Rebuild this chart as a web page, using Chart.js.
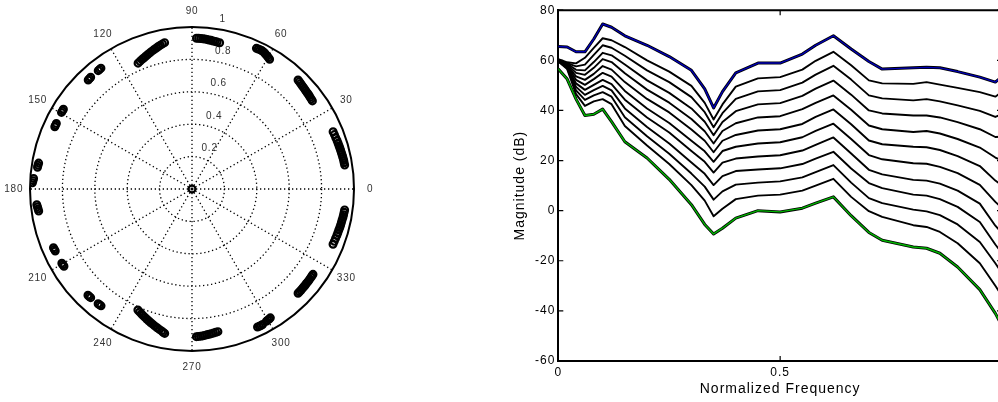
<!DOCTYPE html>
<html>
<head>
<meta charset="utf-8">
<script src="https://cdn.jsdelivr.net/npm/chart.js@4.4.1/dist/chart.umd.min.js"></script>
<style>
  html, body { margin: 0; padding: 0; background: #fff; overflow: hidden; }
  body { width: 998px; height: 402px; position: relative; }
  #polarBox { position: absolute; left: 0; top: 0; width: 400px; height: 402px; }
  #magBox { position: absolute; left: 500px; top: 0; width: 510px; height: 402px; }
</style>
</head>
<body>
<div id="polarBox"><canvas id="polar"></canvas></div>
<div id="magBox"><canvas id="mag"></canvas></div>
<script>
// ---- left: polar plot of the roots (angle in degrees, radius) ----
const rootAngle = [
  88.3, 87.5, 86.7, 85.9, 85.1, 84.3, 83.5, 82.7, 81.9, 81.1, 80.3, 79.3,
  65.4, 64.7, 64, 63.3, 62.6, 61.9, 61.2, 60.5, 59.8, 59.1,
  45.8, 45, 44.2, 43.4, 42.6, 41.8, 41, 40.2, 39.4, 38.6, 37.8, 37, 36.2,
  22.1, 20.9, 19.7, 18.5, 17.4, 16.4, 15.5, 14.6, 13.8, 13, 12.2, 11.4, 10.6, 9.8, 8.9,
  113.2, 112.2, 111.2, 110.2, 109.2, 108.2, 107.2, 106.2, 105.2, 104.2, 103.3, 102.4, 101.5, 100.6,
  133.6, 132.9, 132.2, 128.4, 127.7, 127,
  149.6, 148.9, 148.2, 155.6, 154.9, 154.2,
  172, 171.2, 170.4, 177.8, 177, 176.2,
  185.8, 186.6, 187.4, 188.2,
  203, 203.7, 204.4, 209.7, 210.4, 211.1,
  225.6, 226.3, 227, 230.7, 231.4, 232.1,
  245.9, 246.9, 247.9, 248.9, 249.9, 250.9, 251.9, 252.9, 253.9, 254.9, 255.9, 256.9, 257.9, 258.6, 259.3,
  271.7, 272.5, 273.3, 274.1, 274.9, 275.8, 276.7, 277.6, 278.5, 279.4, 280.3,
  295.4, 296.1, 296.8, 297.5, 299.3, 300, 300.7, 301.3,
  315.5, 316.3, 317.1, 317.9, 318.7, 319.5, 320.3, 321.1, 321.9, 322.7, 323.5, 324.2, 324.8,
  338.6, 339.8, 341, 342.2, 343.3, 344.4, 345.4, 346.4, 347.4, 348.4, 349.4, 350.4, 351.3, 352.2,
  0
];
const rootRadius = [
  0.931, 0.931, 0.93, 0.93, 0.929, 0.928, 0.926, 0.925, 0.923, 0.922, 0.92, 0.919,
  0.955, 0.956, 0.957, 0.957, 0.955, 0.952, 0.947, 0.943, 0.938, 0.933,
  0.939, 0.937, 0.935, 0.933, 0.931, 0.93, 0.928, 0.927, 0.926, 0.925, 0.923, 0.922, 0.921,
  0.94, 0.941, 0.942, 0.944, 0.945, 0.946, 0.947, 0.948, 0.949, 0.95, 0.951, 0.952, 0.953, 0.953, 0.954,
  0.845, 0.851, 0.857, 0.862, 0.868, 0.874, 0.88, 0.886, 0.892, 0.898, 0.904, 0.909, 0.914, 0.919,
  0.929, 0.93, 0.931, 0.932, 0.933, 0.934,
  0.934, 0.934, 0.934, 0.93, 0.93, 0.93,
  0.963, 0.962, 0.96, 0.986, 0.983, 0.98,
  0.963, 0.96, 0.958, 0.956,
  0.929, 0.928, 0.927, 0.925, 0.924, 0.923,
  0.918, 0.918, 0.917, 0.915, 0.915, 0.914,
  0.818, 0.825, 0.831, 0.838, 0.844, 0.851, 0.857, 0.864, 0.87, 0.877, 0.883, 0.89, 0.896, 0.902, 0.907,
  0.912, 0.911, 0.91, 0.909, 0.907, 0.905, 0.903, 0.901, 0.899, 0.897, 0.895,
  0.943, 0.944, 0.944, 0.943, 0.937, 0.935, 0.933, 0.931,
  0.918, 0.918, 0.918, 0.917, 0.917, 0.917, 0.916, 0.916, 0.916, 0.915, 0.915, 0.914, 0.914,
  0.935, 0.936, 0.937, 0.939, 0.94, 0.941, 0.943, 0.944, 0.945, 0.946, 0.948, 0.949, 0.95, 0.951,
  0
];
const ringRadii = [0.2, 0.4, 0.6, 0.8];
const ringLabels = ["0.2", "0.4", "0.6", "0.8", "1"];
const ringLabelRadii = [0.2, 0.4, 0.6, 0.8, 1];
const spokeAngles = [0, 30, 60, 90, 120, 150, 180, 210, 240, 270, 300, 330];

// ---- right: magnitude responses ----
const freq = [0, 0.02, 0.04, 0.06, 0.08, 0.1, 0.12, 0.15, 0.2, 0.25, 0.3, 0.33, 0.35, 0.37, 0.4,
  0.45, 0.5, 0.55, 0.58, 0.62, 0.66, 0.7, 0.73, 0.8, 0.83, 0.86, 0.9, 0.95, 0.985, 1];
const magUpper = [65.5, 65.3, 63.4, 63.4, 68.5, 74.5, 73.2, 69.8, 66, 61.5, 56, 48.6, 41, 47.5, 55,
  58.9, 58.9, 62.5, 66, 69.8, 64.5, 59.5, 56.5, 57, 57.2, 57, 55.5, 53.3, 51.3, 53.5];
const magLower = [56.5, 52.5, 44.5, 38, 38.5, 40.5, 35.5, 27.5, 21, 12.5, 2.4, -5.5, -9.3, -7, -3,
  0, -0.5, 1, 3, 5.5, -2, -8.7, -11.8, -14.5, -15, -17, -22.5, -31.5, -41, -46];
const mag1 = [60.5, 59.2, 58.8, 61, 65, 68.8, 68, 65.3, 60, 55.5, 49.8, 43, 36.4, 42.4, 49.5,
  52.8, 53.3, 56.3, 59.8, 63.4, 58, 52, 50.8, 50.6, 51.3, 50.3, 49, 47.3, 45.5, 47.5];
const mag2 = [60.3, 58.9, 57.6, 58.3, 62.2, 66, 65, 61.8, 56, 51.3, 45.3, 39.3, 33.3, 38.9, 44.6,
  47.6, 48.1, 51.1, 54.3, 57.8, 52.3, 46, 44.8, 44, 44.5, 43.6, 42, 39.8, 37.4, 38.5];
const mag3 = [60.2, 58.6, 56.2, 56, 59.3, 63, 62, 58.3, 52, 47, 40.8, 35.5, 30.1, 35.4, 39.7,
  42.4, 42.9, 45.8, 48.7, 51.9, 46.3, 40, 38.8, 38, 38, 37.2, 35.3, 32.5, 29.4, 29.5];
const mag4 = [60.1, 58.3, 55, 54.2, 57, 60.5, 59.3, 54.8, 48.3, 43.1, 36.6, 31.7, 26.8, 31.8, 34.9,
  37.2, 37.7, 40.5, 43, 46, 40.3, 34, 32.5, 31.4, 31.8, 30.8, 28.6, 25.2, 21.2, 20];
const mag5 = [60, 58, 53.6, 52.2, 54.6, 57.7, 56.3, 51.3, 44.6, 39.2, 32.4, 27.9, 23.3, 27.9, 30.2,
  32, 32.5, 34.6, 37.4, 40.4, 34.5, 28, 26.5, 25.5, 25.3, 24.2, 21.8, 17.8, 12, 10];
const mag6 = [59.9, 57.7, 52.2, 50.2, 52.5, 55, 53.5, 47.8, 40.8, 35, 27.9, 23.7, 19.5, 23.8, 25.5,
  26.8, 27.3, 29.3, 31.8, 34.7, 28.6, 22.2, 20.5, 18.9, 18.7, 17.5, 15, 10.3, 3.5, 1];
const mag7 = [59.8, 57.4, 50.8, 48.2, 50.2, 52.2, 50.5, 44.3, 37.2, 31.2, 23.8, 19.5, 15.2, 19.2, 20.8,
  21.6, 22.1, 24, 26.3, 29.2, 22.8, 16.3, 14.5, 12.3, 12, 10.8, 8, 2.8, -6, -9];
const mag8 = [59.7, 57.1, 49.4, 46.2, 48.1, 49.8, 48, 40.8, 33.4, 26.8, 19.2, 14.7, 10.2, 13.8, 15.8,
  16.4, 16.9, 18.6, 20.8, 23.5, 16.8, 11, 9, 6.4, 6, 4.6, 1.5, -4.5, -13.5, -17];
const mag9 = [59.6, 56.8, 48, 44.2, 46, 47.3, 45.5, 37.3, 29.7, 22.7, 14.8, 9.6, 4.4, 7.7, 10.4,
  11.2, 11.7, 13.3, 15.4, 18.2, 11.2, 5, 3, 0.4, -0.3, -1.8, -5.5, -12.5, -21, -25];
const mag10 = [59.5, 56.5, 46.5, 41.8, 43.6, 44.5, 42.5, 33.8, 26, 18.6, 10.2, 4, -2.2, 0.8, 4.6,
  6, 6.4, 8, 10, 12.7, 5.5, -0.2, -2.5, -5.8, -6.5, -8.5, -13, -21, -30, -34];
const blackCurves = [mag1, mag2, mag3, mag4, mag5, mag6, mag7, mag8, mag9, mag10];

Chart.defaults.font.family = '"Liberation Sans", Arial, Helvetica, sans-serif';
Chart.defaults.color = "#000";

const toRad = (deg) => deg * Math.PI / 180;

// dotted rings, spokes, outer circle and the labels of the polar axes
const polarGrid = {
  id: "polarGrid",
  beforeDatasetsDraw(chart) {
    const {ctx, scales: {x, y}} = chart;
    const cx = x.getPixelForValue(0);
    const cy = y.getPixelForValue(0);
    const R = x.getPixelForValue(1) - cx;
    ctx.save();
    ctx.strokeStyle = "#000";
    ctx.lineWidth = 1.3;
    ctx.setLineDash([1.3, 2.7]);
    for (let r of ringRadii) {
      ctx.beginPath();
      ctx.arc(cx, cy, r * R, 0, 2 * Math.PI);
      ctx.stroke();
    }
    for (let a of spokeAngles) {
      ctx.beginPath();
      ctx.moveTo(cx, cy);
      ctx.lineTo(cx + R * Math.cos(toRad(a)), cy - R * Math.sin(toRad(a)));
      ctx.stroke();
    }
    ctx.setLineDash([]);
    ctx.lineWidth = 2;
    ctx.beginPath();
    ctx.arc(cx, cy, R, 0, 2 * Math.PI);
    ctx.stroke();

    ctx.fillStyle = "#333";
    ctx.font = '10px "Liberation Sans", Arial, sans-serif';
    ctx.letterSpacing = "0.8px";
    ctx.textAlign = "center";
    ctx.textBaseline = "middle";
    for (let a of spokeAngles) {
      ctx.fillText(String(a), cx + 1.1 * R * Math.cos(toRad(a)), cy - 1.1 * R * Math.sin(toRad(a)));
    }
    ctx.textAlign = "left";
    ringLabels.forEach((txt, i) => {
      const r = ringLabelRadii[i] * R;
      ctx.fillText(txt, cx + r * Math.cos(toRad(82)) + 5, cy - r * Math.sin(toRad(82)) - 9);
    });
    ctx.restore();
  }
};

new Chart(document.getElementById("polar"), {
  type: "scatter",
  data: {
    datasets: [{
      label: "roots",
      data: rootAngle.map((a, i) => ({
        x: rootRadius[i] * Math.cos(toRad(a)),
        y: rootRadius[i] * Math.sin(toRad(a))
      })),
      pointStyle: "circle",
      pointRadius: 3.4,
      pointBorderWidth: 2.2,
      pointBorderColor: "#000",
      pointBackgroundColor: "rgba(0,0,0,0)"
    }]
  },
  options: {
    animation: false,
    responsive: true,
    maintainAspectRatio: false,
    layout: {padding: {left: 30, top: 27, right: 46, bottom: 51}},
    plugins: {legend: {display: false}, tooltip: {enabled: false}},
    scales: {
      x: {type: "linear", min: -1, max: 1, display: false},
      y: {type: "linear", min: -1, max: 1, display: false}
    }
  },
  plugins: [polarGrid]
});

// box on top/right and inward tick marks, MATLAB style
const axesBox = {
  id: "axesBox",
  beforeDraw(chart) {
    chart.ctx.letterSpacing = "1px";
  },
  afterDatasetsDraw(chart) {
    const {ctx, chartArea: a, scales: {x, y}} = chart;
    ctx.save();
    ctx.strokeStyle = "#000";
    ctx.lineWidth = 2;
    ctx.beginPath();
    ctx.moveTo(a.left, a.top);
    ctx.lineTo(a.right, a.top);
    ctx.lineTo(a.right, a.bottom);
    ctx.stroke();
    ctx.lineWidth = 1.2;
    ctx.beginPath();
    for (let t of y.ticks) {
      const py = y.getPixelForValue(t.value);
      ctx.moveTo(a.left, py); ctx.lineTo(a.left + 5, py);
      ctx.moveTo(a.right, py); ctx.lineTo(a.right - 5, py);
    }
    for (let t of x.ticks) {
      const px = x.getPixelForValue(t.value);
      ctx.moveTo(px, a.bottom); ctx.lineTo(px, a.bottom - 5);
      ctx.moveTo(px, a.top); ctx.lineTo(px, a.top + 5);
    }
    ctx.stroke();
    ctx.restore();
  }
};

const toPoints = (vals) => vals.map((v, i) => ({x: freq[i], y: v}));

// lower "order" is drawn on top
const magDatasets = blackCurves.map((vals, k) => ({
  label: "curve " + (k + 1),
  data: toPoints(vals),
  borderColor: "#000",
  borderWidth: 1.9,
  order: 3
}));
magDatasets.push(
  {label: "upper edge", data: toPoints(magUpper), borderColor: "#000", borderWidth: 3, order: 2},
  {label: "upper", data: toPoints(magUpper), borderColor: "#0000b4", borderWidth: 1.4, order: 1},
  {label: "lower edge", data: toPoints(magLower), borderColor: "#000", borderWidth: 3, order: 2},
  {label: "lower", data: toPoints(magLower), borderColor: "#00b400", borderWidth: 1.4, order: 1}
);

new Chart(document.getElementById("mag"), {
  type: "line",
  data: {datasets: magDatasets},
  options: {
    animation: false,
    responsive: true,
    maintainAspectRatio: false,
    layout: {padding: {left: 0, top: 7, right: 8, bottom: 0}},
    plugins: {legend: {display: false}, tooltip: {enabled: false}},
    elements: {point: {radius: 0}, line: {tension: 0, borderCapStyle: "round", borderJoinStyle: "round"}},
    scales: {
      x: {
        type: "linear",
        min: 0,
        max: 1,
        ticks: {
          stepSize: 0.5, padding: 4, font: {size: 12}, color: "#000",
          // the label of 1 sits past the window edge in the original
          callback: (v) => (v === 1 ? "" : String(v))
        },
        grid: {display: false, drawTicks: false},
        border: {display: true, color: "#000", width: 2},
        title: {display: true, text: "Normalized Frequency", font: {size: 14}, color: "#000", padding: {top: 0, bottom: 4}},
        afterFit(scale) { scale.height = 41; }
      },
      y: {
        type: "linear",
        min: -60,
        max: 80,
        ticks: {stepSize: 20, padding: 3, font: {size: 12}, color: "#000"},
        grid: {display: false, drawTicks: false},
        border: {display: true, color: "#000", width: 2},
        title: {display: true, text: "Magnitude (dB)", font: {size: 14}, color: "#000", padding: {top: 12, bottom: 0}},
        afterFit(scale) { scale.width = 58.3; }
      }
    }
  },
  plugins: [axesBox]
});
</script>
</body>
</html>
